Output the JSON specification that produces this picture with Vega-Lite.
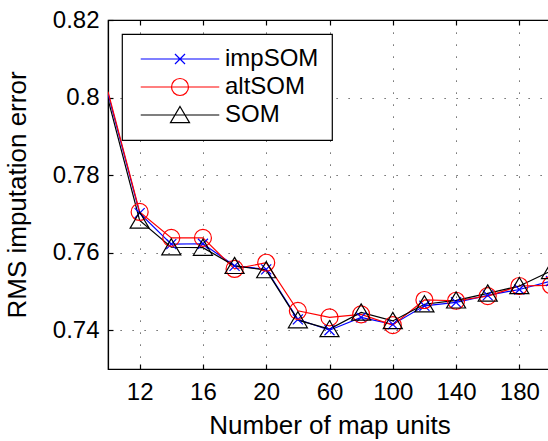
{
  "$schema": "https://vega.github.io/schema/vega-lite/v6.json",
  "autosize": {"type": "none"},
  "padding": {"left": 108, "top": 20, "right": 0, "bottom": 72},
  "width": 443,
  "height": 349,
  "background": "white",
  "config": {
    "font": "Liberation Sans",
    "view": {"stroke": "black", "strokeWidth": 1.2},
    "axis": {
      "domainColor": "black",
      "domainWidth": 1.2,
      "tickColor": "black",
      "tickWidth": 1.2,
      "tickSize": -5,
      "labelColor": "black",
      "labelFont": "Liberation Sans",
      "labelFontSize": 24,
      "titleFont": "Liberation Sans",
      "titleFontSize": 26,
      "titleFontWeight": "normal",
      "titleColor": "black",
      "grid": true,
      "gridColor": "black",
      "gridOpacity": 0.75,
      "gridWidth": 1,
      "gridDash": [1.2, 10.8]
    },
    "legend": {
      "orient": "none",
      "legendX": 14,
      "legendY": 14,
      "strokeColor": "black",
      "strokeWidth": 1.2,
      "fillColor": "white",
      "padding": 13,
      "symbolSize": 289,
      "symbolStrokeWidth": 1.2,
      "symbolFillColor": "transparent",
      "symbolOpacity": 1,
      "symbolOffset": 33,
      "labelOffset": 33,
      "labelFont": "Liberation Sans",
      "labelFontSize": 24,
      "labelColor": "black",
      "rowPadding": 4
    }
  },
  "data": {
    "values": [
      {"units": 10, "method": "impSOM", "error": 0.8010},
      {"units": 12, "method": "impSOM", "error": 0.7702},
      {"units": 14, "method": "impSOM", "error": 0.7622},
      {"units": 16, "method": "impSOM", "error": 0.7623},
      {"units": 18, "method": "impSOM", "error": 0.7566},
      {"units": 20, "method": "impSOM", "error": 0.7557},
      {"units": 40, "method": "impSOM", "error": 0.7428},
      {"units": 60, "method": "impSOM", "error": 0.7400},
      {"units": 80, "method": "impSOM", "error": 0.7433},
      {"units": 100, "method": "impSOM", "error": 0.7415},
      {"units": 120, "method": "impSOM", "error": 0.7463},
      {"units": 140, "method": "impSOM", "error": 0.7472},
      {"units": 160, "method": "impSOM", "error": 0.7490},
      {"units": 180, "method": "impSOM", "error": 0.7505},
      {"units": 200, "method": "impSOM", "error": 0.7527},
      {"units": 10, "method": "altSOM", "error": 0.8015},
      {"units": 12, "method": "altSOM", "error": 0.7705},
      {"units": 14, "method": "altSOM", "error": 0.7638},
      {"units": 16, "method": "altSOM", "error": 0.7638},
      {"units": 18, "method": "altSOM", "error": 0.7558},
      {"units": 20, "method": "altSOM", "error": 0.7574},
      {"units": 40, "method": "altSOM", "error": 0.7450},
      {"units": 60, "method": "altSOM", "error": 0.7433},
      {"units": 80, "method": "altSOM", "error": 0.7441},
      {"units": 100, "method": "altSOM", "error": 0.7413},
      {"units": 120, "method": "altSOM", "error": 0.7478},
      {"units": 140, "method": "altSOM", "error": 0.7476},
      {"units": 160, "method": "altSOM", "error": 0.7488},
      {"units": 180, "method": "altSOM", "error": 0.7514},
      {"units": 200, "method": "altSOM", "error": 0.7516},
      {"units": 10, "method": "SOM", "error": 0.7996},
      {"units": 12, "method": "SOM", "error": 0.7683},
      {"units": 14, "method": "SOM", "error": 0.7614},
      {"units": 16, "method": "SOM", "error": 0.7613},
      {"units": 18, "method": "SOM", "error": 0.7566},
      {"units": 20, "method": "SOM", "error": 0.7555},
      {"units": 40, "method": "SOM", "error": 0.7426},
      {"units": 60, "method": "SOM", "error": 0.7403},
      {"units": 80, "method": "SOM", "error": 0.7446},
      {"units": 100, "method": "SOM", "error": 0.7424},
      {"units": 120, "method": "SOM", "error": 0.7467},
      {"units": 140, "method": "SOM", "error": 0.7477},
      {"units": 160, "method": "SOM", "error": 0.7495},
      {"units": 180, "method": "SOM", "error": 0.7514},
      {"units": 200, "method": "SOM", "error": 0.7553}
    ]
  },
  "encoding": {
    "x": {
      "field": "units",
      "type": "ordinal",
      "sort": null,
      "scale": {"type": "point", "padding": 0}
    },
    "y": {
      "field": "error",
      "type": "quantitative",
      "scale": {"domain": [0.73, 0.82], "nice": false, "zero": false},
      "axis": {
        "values": [0.74, 0.76, 0.78, 0.8, 0.82],
        "format": "~g",
        "labelPadding": 14,
        "title": "RMS imputation error",
        "titlePadding": 22
      }
    },
    "color": {
      "field": "method",
      "type": "nominal",
      "scale": {"domain": ["impSOM", "altSOM", "SOM"], "range": ["#0000ff", "#ff0000", "#000000"]},
      "legend": null
    }
  },
  "layer": [
    {
      "mark": {"type": "line", "strokeWidth": 1.2, "clip": true},
      "encoding": {
        "x": {
          "field": "units",
          "type": "ordinal",
          "sort": null,
          "scale": {"type": "point", "padding": 0},
          "axis": {
            "values": [12, 16, 20, 60, 100, 140, 180],
            "labelAngle": 0,
            "labelPadding": 16,
            "title": "Number of map units",
            "titlePadding": 8
          }
        }
      }
    },
    {
      "transform": [{"filter": "datum.units > 10"}],
      "mark": {"type": "point", "filled": false, "strokeWidth": 1.2, "size": 289, "opacity": 1, "clip": true},
      "encoding": {
        "x": {
          "field": "units",
          "type": "ordinal",
          "sort": null,
          "scale": {"type": "point", "padding": 0},
          "axis": null
        },
        "shape": {
          "field": "method",
          "type": "nominal",
          "scale": {
            "domain": ["impSOM", "altSOM", "SOM"],
            "range": [
              "M-0.59,-0.59L0.59,0.59M-0.59,0.59L0.59,-0.59",
              "M1,0A1,1,0,1,1,-1,0A1,1,0,1,1,1,0Z",
              "M0,-1L1.12,0.9L-1.12,0.9Z"
            ]
          },
          "legend": null
        }
      }
    },
    {
      "mark": {"type": "point", "filled": false, "strokeWidth": 1.2, "size": 289, "opacity": 0, "clip": true},
      "encoding": {
        "x": {
          "field": "units",
          "type": "ordinal",
          "sort": null,
          "scale": {"type": "point", "padding": 0},
          "axis": {
            "orient": "top",
            "values": [12, 16, 20, 60, 100, 140, 180],
            "labels": false,
            "grid": false,
            "domain": false,
            "title": null
          }
        },
        "color": {
          "field": "method",
          "type": "nominal",
          "scale": {"domain": ["impSOM", "altSOM", "SOM"], "range": ["#0000ff", "#ff0000", "#000000"]},
          "legend": {"title": null}
        },
        "shape": {
          "field": "method",
          "type": "nominal",
          "scale": {
            "domain": ["impSOM", "altSOM", "SOM"],
            "range": [
              "M-4.62,0L4.62,0M-0.59,-0.59L0.59,0.59M-0.59,0.59L0.59,-0.59",
              "M-4.62,0L4.62,0M1,0A1,1,0,1,1,-1,0A1,1,0,1,1,1,0Z",
              "M-4.62,0L4.62,0M0,-1L1.12,0.9L-1.12,0.9Z"
            ]
          },
          "legend": {"title": null}
        }
      }
    }
  ],
  "resolve": {"scale": {"shape": "independent", "color": "independent"}, "axis": {"x": "independent"}}
}
